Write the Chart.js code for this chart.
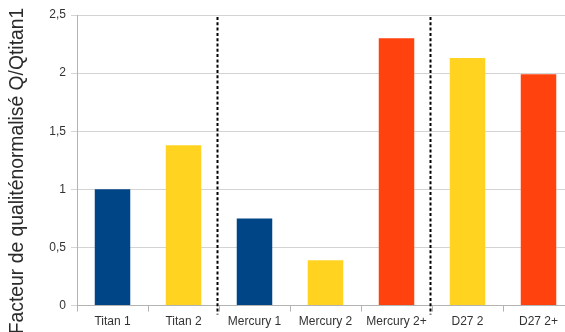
<!DOCTYPE html>
<html>
<head>
<meta charset="utf-8">
<script src="https://cdn.jsdelivr.net/npm/chart.js@4/dist/chart.umd.min.js"></script>
<style>
  html, body { margin: 0; padding: 0; background: #fff; overflow: hidden; }
  #wrap { width: 575px; height: 332px; }
</style>
</head>
<body>
<div id="wrap"><canvas id="c" width="575" height="332"></canvas></div>
<script>
const categories = ["Titan 1", "Titan 2", "Mercury 1", "Mercury 2", "Mercury 2+", "D27 2", "D27 2+"];
const values = [1.0, 1.38, 0.75, 0.39, 2.30, 2.13, 1.99];
const yTicks = [0, 0.5, 1, 1.5, 2, 2.5];
const yTickLabels = ["0", "0,5", "1", "1,5", "2", "2,5"];
const separatorsAfter = [1, 4]; // dashed separators after these category indices
const yTitle = "Facteur de qualiténormalisé Q/Qtitan1";

const BLUE = "#004586", YELLOW = "#ffd320", RED = "#ff420e";
const barColors = [BLUE, YELLOW, BLUE, YELLOW, RED, YELLOW, RED];

const extras = {
  id: 'extras',
  afterDatasetsDraw(chart) {
    const ctx = chart.ctx, x = chart.scales.x, y = chart.scales.y;
    ctx.save();
    ctx.strokeStyle = '#000';
    ctx.lineWidth = 2;
    ctx.setLineDash([3, 2.3]);
    separatorsAfter.forEach(i => {
      const px = Math.round(x.getPixelForValue(i + 0.5)) - 1.5;
      ctx.beginPath();
      ctx.moveTo(px, y.getPixelForValue(2.5) + 2);
      ctx.lineTo(px, y.getPixelForValue(0) + 9);
      ctx.stroke();
    });
    ctx.restore();
  },
  afterDraw(chart) {
    const ctx = chart.ctx;
    ctx.save();
    ctx.fillStyle = '#2a2a2a';
    ctx.font = '21px "Liberation Sans", Arial, sans-serif';
    ctx.textAlign = 'center';
    ctx.textBaseline = 'middle';
    ctx.translate(17, 171);
    ctx.rotate(-Math.PI / 2);
    ctx.scale(0.92, 1);
    ctx.fillText(yTitle, 0, 0);
    ctx.restore();
  }
};

new Chart(document.getElementById('c'), {
  type: 'bar',
  data: {
    labels: categories,
    datasets: [{
      data: values,
      backgroundColor: barColors,
      borderWidth: 0,
      barPercentage: 0.5,
      categoryPercentage: 1.0
    }]
  },
  options: {
    responsive: false,
    animation: false,
    devicePixelRatio: 1,
    layout: { padding: { top: 15, right: 1, left: 0, bottom: 0 } },
    plugins: { legend: { display: false }, tooltip: { enabled: false } },
    scales: {
      x: {
        grid: { drawOnChartArea: false, drawTicks: true, tickLength: 6, color: '#b3b3b3', offset: true },
        border: { color: '#b3b3b3' },
        ticks: { color: '#333', font: { family: '"Liberation Sans", Arial, sans-serif', size: 12 }, padding: 3, maxRotation: 0, autoSkip: false }
      },
      y: {
        min: 0, max: 2.5,
        afterFit(scale) { scale.width = 77; },
        afterBuildTicks(scale) { scale.ticks = yTicks.map(v => ({ value: v })); },
        grid: { color: '#d4d4d4', tickLength: 6, drawTicks: true },
        border: { color: '#b3b3b3' },
        ticks: {
          color: '#333',
          font: { family: '"Liberation Sans", Arial, sans-serif', size: 12 },
          padding: 5,
          callback: (v) => { const i = yTicks.indexOf(v); return i >= 0 ? yTickLabels[i] : ''; }
        }
      }
    }
  },
  plugins: [extras]
});
</script>
</body>
</html>
